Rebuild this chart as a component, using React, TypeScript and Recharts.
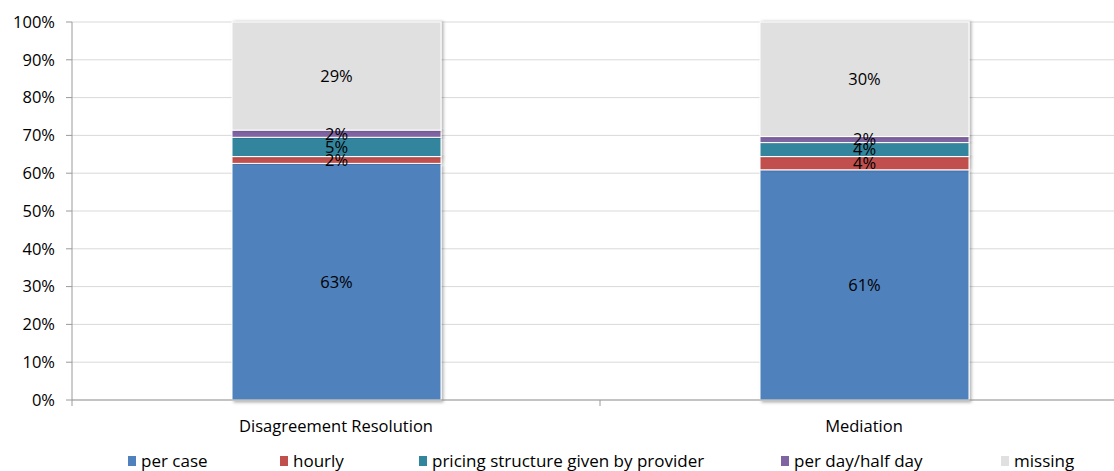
import React from "react";
import { BarChart, Bar, XAxis, YAxis, CartesianGrid, LabelList, Legend } from "recharts";

const categories = ["Disagreement Resolution", "Mediation"];
const perCase = [62.6, 60.9];
const hourly = [1.8, 3.5];
const pricing = [5.1, 3.7];
const perDay = [1.9, 1.6];
const missing = [28.6, 30.3];
const yTicks = [0, 10, 20, 30, 40, 50, 60, 70, 80, 90, 100];

const seriesNames = ["per case", "hourly", "pricing structure given by provider", "per day/half day", "missing"];
const seriesKeys = ["perCase", "hourly", "pricing", "perDay", "missing"];
const seriesColors = ["#4F81BD", "#C0504D", "#31859C", "#8064A2", "#E0E0E0"];
const legendLeft = [128, 280, 419, 781, 1001];

const data = categories.map((c, i) => ({
  name: c,
  perCase: perCase[i],
  hourly: hourly[i],
  pricing: pricing[i],
  perDay: perDay[i],
  missing: missing[i],
}));

const FONT = "'Open Sans', sans-serif";
const FS = 16.5;

const fmt = (v: any) => `${Math.round(Number(v))}%`;

const XTick = (props: any) => {
  const { x, y, payload, index } = props;
  const off = payload && payload.offset ? payload.offset : 0;
  return (
    <g>
      <text x={x} y={y + 24} textAnchor="middle" fontSize={FS} fontFamily={FONT} fill="#000">
        {payload.value}
      </text>
      {index === 0 && off > 0 && (
        <g>
          <line x1={x + off} x2={x + off} y1={y - 8} y2={y - 2} stroke="#9a9a9a" />
          <line x1={x - off} x2={x - off} y1={y - 8} y2={y - 2} stroke="#9a9a9a" />
        </g>
      )}
    </g>
  );
};

const makeShape = (filterId: string) => (props: any) => {
  const { x, y, width, height, fill } = props;
  if (!height || height <= 0) return <g />;
  return (
    <rect x={x} y={y} width={width} height={height} fill={fill} stroke="#ffffff" strokeWidth={1} filter={`url(#${filterId})`} />
  );
};

const renderLegend = () => (
  <div style={{ position: "relative", height: 30, fontFamily: FONT, fontSize: 17, color: "#000" }}>
    {seriesNames.map((n, i) => (
      <div key={n} style={{ position: "absolute", left: legendLeft[i], top: 11, display: "flex", alignItems: "center", whiteSpace: "nowrap", lineHeight: "18px" }}>
        <span style={{ display: "inline-block", width: 8, height: 10, background: seriesColors[i], marginRight: 5 }} />
        <span>{n}</span>
      </div>
    ))}
  </div>
);

export default function App() {
  return (
    <div style={{ position: "absolute", left: 0, top: 0, width: 1114, height: 471, overflow: "hidden", background: "#fff" }}>
      <BarChart width={1130} height={471} data={data} margin={{ top: 22, right: 2, bottom: 0, left: 0 }} barSize={209}>
        <defs>
          <filter id="shBottom" x="-10%" y="-10%" width="130%" height="130%">
            <feDropShadow dx="2" dy="2" stdDeviation="1.5" floodColor="#000" floodOpacity="0.3" />
          </filter>
          <filter id="shSide" x="-10%" y="-10%" width="130%" height="130%">
            <feDropShadow dx="2" dy="0" stdDeviation="1.5" floodColor="#000" floodOpacity="0.3" />
          </filter>
        </defs>
        <CartesianGrid vertical={false} stroke="#d9d9d9" />
        <XAxis
          dataKey="name"
          height={41}
          tickLine={false}
          axisLine={{ stroke: "#9a9a9a" }}
          tick={<XTick />}
          interval={0}
        />
        <YAxis
          width={72}
          domain={[0, 100]}
          ticks={yTicks}
          tickFormatter={(v) => `${v}%`}
          axisLine={{ stroke: "#9a9a9a" }}
          tickLine={{ stroke: "#9a9a9a" }}
          tickSize={6}
          tickMargin={11}
          tick={{ fontSize: FS, fontFamily: FONT, fill: "#000" }}
        />
        <Legend verticalAlign="bottom" height={30} content={renderLegend} />
        {seriesKeys.map((k, i) => (
          <Bar
            key={k}
            dataKey={k}
            name={seriesNames[i]}
            stackId="a"
            fill={seriesColors[i]}
            isAnimationActive={false}
            shape={makeShape(i === 0 ? "shBottom" : "shSide")}
          >
            <LabelList dataKey={k} position="center" formatter={fmt} fill="#000" fontSize={FS} fontFamily={FONT} />
          </Bar>
        ))}
      </BarChart>
    </div>
  );
}
